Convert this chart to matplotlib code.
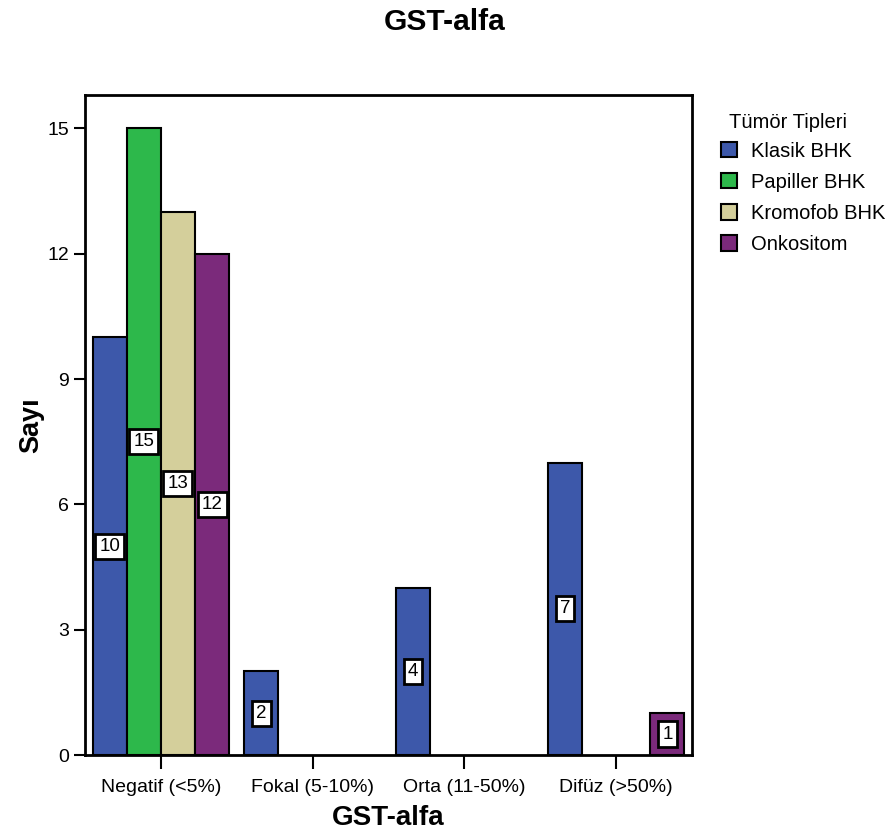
import numpy as np
import matplotlib.pyplot as plt

plt.rcParams['font.family'] = ['Liberation Sans', 'DejaVu Sans']

# counts per GST-alfa staining group
groups = ['Negatif (<5%)', 'Fokal (5-10%)', 'Orta (11-50%)', 'Difüz (>50%)']
tumor_types = ['Klasik BHK', 'Papiller BHK', 'Kromofob BHK', 'Onkositom']
klasik = [10, 2, 4, 7]
papiller = [15, 0, 0, 0]
kromofob = [13, 0, 0, 0]
onkositom = [12, 0, 0, 1]
colors = ['#3d58aa', '#2db84b', '#d4cf9b', '#7b2a7b']

series = [klasik, papiller, kromofob, onkositom]

fig = plt.figure(figsize=(8.9, 8.35), dpi=100)
ax = fig.add_axes([0.0955, 0.0958, 0.682, 0.7904])

x = np.arange(len(groups))
w = 0.225
for i, (vals, name, col) in enumerate(zip(series, tumor_types, colors)):
    pos = x + (i - 1.5) * w
    vals = np.array(vals)
    keep = vals > 0
    ax.bar(pos[keep], vals[keep], width=w, color=col, edgecolor='black',
           linewidth=1.5, label=name)
    for px, v in zip(pos[keep], vals[keep]):
        ax.text(px, v / 2, str(v), ha='center', va='center', fontsize=13.5,
                bbox=dict(boxstyle='square,pad=0.22', fc='white', ec='black', lw=2))

ax.set_xlim(-0.5, 3.5)
ax.set_ylim(0, 15.8)
ax.set_yticks([0, 3, 6, 9, 12, 15])
ax.set_xticks(x)
ax.set_xticklabels(groups)
ax.tick_params(axis='both', labelsize=14, width=1.5, direction='out')
ax.tick_params(axis='y', length=8)
ax.tick_params(axis='x', length=10, pad=7)
for s in ax.spines.values():
    s.set_linewidth(2)

ax.set_xlabel('GST-alfa', fontsize=20, fontweight='bold', labelpad=7)
ax.set_ylabel('Sayı', fontsize=19.5, fontweight='bold', labelpad=2)
fig.suptitle('GST-alfa', fontsize=21.5, fontweight='bold', y=0.99)

leg = ax.legend(title='Tümör Tipleri', loc='upper left', bbox_to_anchor=(1.035, 0.985),
                frameon=False, fontsize=14.5, title_fontsize=14.5,
                handlelength=0.8, handleheight=0.8, handletextpad=0.7, labelspacing=0.6,
                borderaxespad=0)
leg._legend_box.sep = 7
leg._legend_box.align = 'left'
leg.get_title().set_position((8, 0))

fig.savefig('out.png', dpi=100)
